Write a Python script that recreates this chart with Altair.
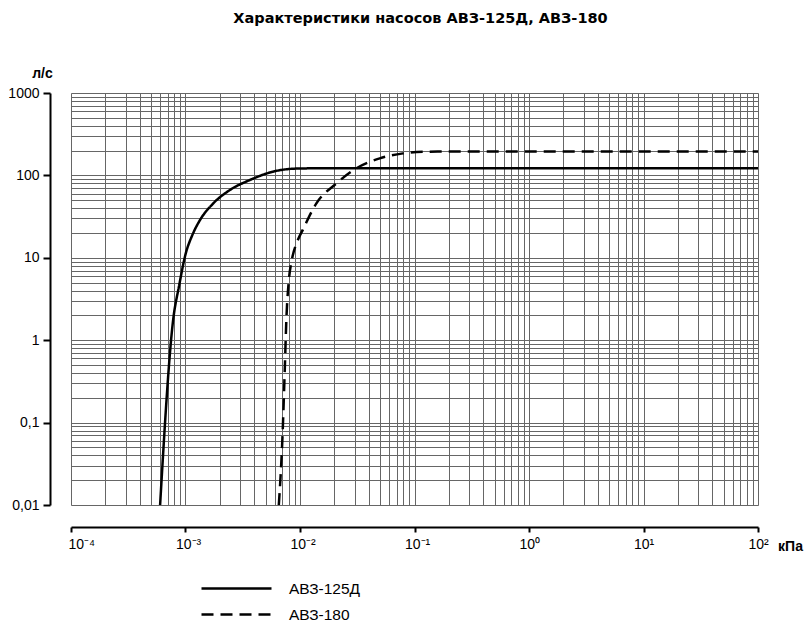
import altair as alt
import pandas as pd

FONT = "Liberation Sans"
TITLE_FONT = "DejaVu Sans"

title_text = "Характеристики насосов АВЗ-125Д, АВЗ-180"
series_names = ["АВЗ-125Д", "АВЗ-180"]

# АВЗ-125Д (solid)
p_125 = [6.0e-4, 7.8e-4, 8.8e-4, 1.0e-3, 1.15e-3, 1.34e-3, 1.75e-3, 2.44e-3,
         3.65e-3, 5.8e-3, 9.3e-3, 1.5e-2, 100.0]
q_125 = [0.01, 1.76, 4.6, 11.0, 19.0, 28.8, 45.8, 66.5,
         87.9, 111.0, 121.0, 122.0, 122.0]

# АВЗ-180 (dashed)
p_180 = [6.53e-3, 7.03e-3, 7.36e-3, 7.6e-3, 8.0e-3, 8.5e-3, 9.5e-3, 1.06e-2,
         1.39e-2, 2.08e-2, 3.11e-2, 4.97e-2, 7.94e-2, 0.127, 0.2, 100.0]
q_180 = [0.01, 0.0675, 0.435, 1.76, 5.4, 9.5, 16.0, 22.0,
         45.8, 80.0, 122.0, 161.0, 185.0, 194.0, 195.0, 195.0]

x_tick_labels = ["10⁻⁴", "10⁻³", "10⁻²", "10⁻¹", "10⁰", "10¹", "10²"]
y_tick_labels = ["0,01", "0,1", "1", "10", "100", "1000"]
x_axis_title = "кПа"
y_axis_title = "л/с"

rows = []
for p, q in zip(p_125, q_125):
    rows.append({"p": p, "q": q, "s": series_names[0]})
for p, q in zip(p_180, q_180):
    rows.append({"p": p, "q": q, "s": series_names[1]})
df = pd.DataFrame(rows)

# log grid positions (1..9 x each decade)
x_grid = [m * 10.0 ** e for e in range(-4, 2) for m in range(1, 10)] + [100.0]
y_grid = [m * 10.0 ** e for e in range(-2, 3) for m in range(1, 10)] + [1000.0]

LOGV = "(log(datum.value)/LN10)"
DECADE = f"abs({LOGV} - round({LOGV})) < 0.001"

x_label_expr = (f"{DECADE} ? {x_tick_labels!r}[round({LOGV}) + 4] : ''")
y_label_expr = (f"{DECADE} ? {y_tick_labels!r}[round({LOGV}) + 2] : ''")

x_axis = alt.Axis(
    values=x_grid, grid=True, gridColor="#666666", gridWidth=1,
    domain=True, domainColor="black", domainWidth=2,
    ticks=True, tickColor="black", tickWidth=2, tickSize=5,
    tickOpacity={"condition": {"test": DECADE, "value": 1}, "value": 0},
    labelExpr=x_label_expr, labelFont=FONT, labelFontSize=14, labelColor="black",
    labelAlign="left",
    labelOffset={"condition": {"test": "datum.value < 0.00015", "value": -3}, "value": -10},
    labelPadding=5, labelOverlap=False, labelFlush=False,
    offset=22,
    title=x_axis_title, titleFont=FONT, titleFontSize=14, titleFontWeight="bold",
    titleColor="black", titleAlign="center", titleBaseline="middle",
    titleX=719, titleY=19, titleAngle=0,
)

y_axis = alt.Axis(
    values=y_grid, grid=True, gridColor="#666666", gridWidth=1,
    domain=True, domainColor="black", domainWidth=2,
    ticks=True, tickColor="black", tickWidth=2, tickSize=7,
    tickOpacity={"condition": {"test": DECADE, "value": 1}, "value": 0},
    labelExpr=y_label_expr, labelFont=FONT, labelFontSize=14, labelColor="black",
    labelPadding=4, labelOverlap=False, labelFlush=False,
    offset=21,
    title=y_axis_title, titleFont=FONT, titleFontSize=14, titleFontWeight="bold",
    titleColor="black", titleAlign="center", titleBaseline="middle",
    titleX=-8, titleY=-20, titleAngle=0,
)

chart = alt.Chart(df).mark_line(
    color="black", strokeWidth=2.5, interpolate="monotone", strokeCap="butt"
).encode(
    x=alt.X("p:Q", scale=alt.Scale(type="log", domain=[1e-4, 100], nice=False), axis=x_axis),
    y=alt.Y("q:Q", scale=alt.Scale(type="log", domain=[0.01, 1000], nice=False), axis=y_axis),
    strokeDash=alt.StrokeDash(
        "s:N",
        scale=alt.Scale(domain=series_names, range=[[1, 0], [12, 7]]),
        legend=alt.Legend(
            title=None, orient="none", legendX=157, legendY=487,
            symbolType="M-5,0H5", symbolSize=196, symbolStrokeWidth=2.5,
            symbolStrokeColor="black",
            labelFont=FONT, labelFontSize=15.5, labelColor="black", labelOffset=44,
            rowPadding=9,
        ),
    ),
    detail="s:N",
).properties(
    width=687, height=412,
    title=alt.TitleParams(
        title_text, font=TITLE_FONT, fontSize=14.5, fontWeight="bold", color="black",
        anchor="middle", dx=6, offset=40,
    ),
    autosize="none",
    padding={"left": 63, "top": 85, "right": 46, "bottom": 120},
).configure_view(stroke=None).configure(background="white")

chart.save("out.html", embed_options={"renderer": "svg", "actions": False})
